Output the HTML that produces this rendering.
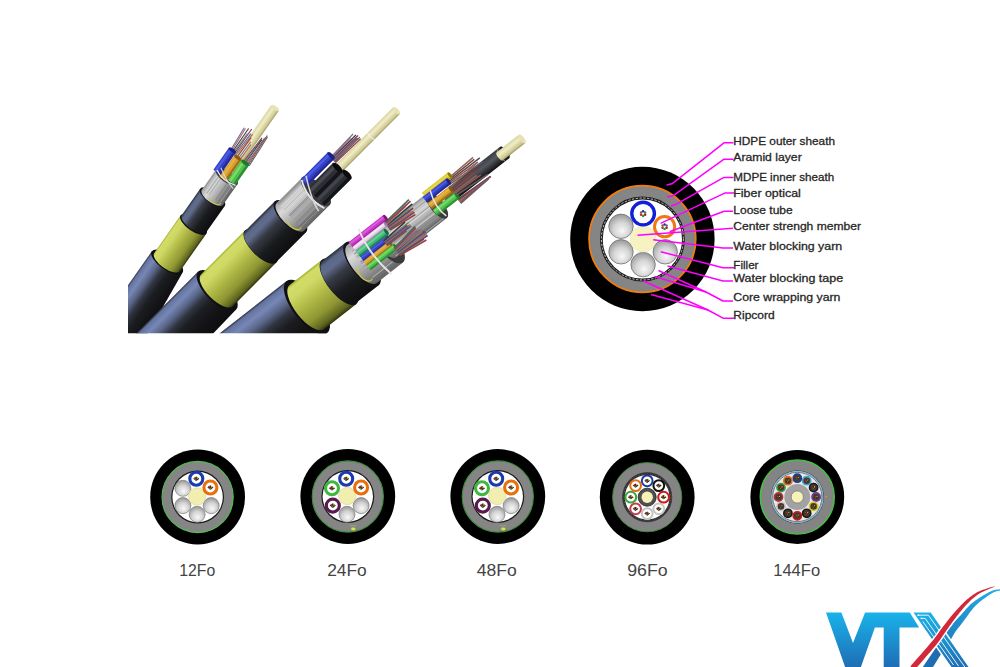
<!DOCTYPE html>
<html><head><meta charset="utf-8"><style>
html,body{margin:0;padding:0;background:#fff;}
svg{display:block;font-family:"Liberation Sans",sans-serif;}
</style></head><body>
<svg width="1000" height="667" viewBox="0 0 1000 667">
<defs>
<linearGradient id="gSheath" x1="0" y1="1" x2="0" y2="0">
 <stop offset="0" stop-color="#2c3244"/><stop offset="0.035" stop-color="#64739e"/><stop offset="0.14" stop-color="#7787b6"/>
 <stop offset="0.27" stop-color="#5a6688"/><stop offset="0.4" stop-color="#30343f"/><stop offset="0.54" stop-color="#1c1d21"/>
 <stop offset="0.75" stop-color="#131315"/><stop offset="0.96" stop-color="#0e0e10"/><stop offset="1" stop-color="#1a1a1e"/>
</linearGradient>
<linearGradient id="gInner" x1="0" y1="1" x2="0" y2="0">
 <stop offset="0" stop-color="#2a2e3a"/><stop offset="0.08" stop-color="#5c6888"/><stop offset="0.2" stop-color="#616c8c"/>
 <stop offset="0.38" stop-color="#363a44"/><stop offset="0.65" stop-color="#1a1b1e"/>
 <stop offset="1" stop-color="#0e0e10"/>
</linearGradient>
<linearGradient id="gYellow" x1="0" y1="1" x2="0" y2="0">
 <stop offset="0" stop-color="#a0b030"/><stop offset="0.05" stop-color="#d2dc66"/><stop offset="0.2" stop-color="#d0d866"/>
 <stop offset="0.45" stop-color="#b2ba48"/><stop offset="0.75" stop-color="#8e9632"/>
 <stop offset="0.93" stop-color="#5e6420"/><stop offset="1" stop-color="#30320e"/>
</linearGradient>
<linearGradient id="gTape" x1="0" y1="1" x2="0" y2="0">
 <stop offset="0" stop-color="#a4a4a4"/><stop offset="0.25" stop-color="#dadada"/>
 <stop offset="0.6" stop-color="#a8a8a8"/><stop offset="1" stop-color="#5e5e5e"/>
</linearGradient>
<linearGradient id="gRod" x1="0" y1="1" x2="0" y2="0">
 <stop offset="0" stop-color="#d9d4a4"/><stop offset="0.35" stop-color="#f1edc6"/>
 <stop offset="0.8" stop-color="#cfc993"/><stop offset="1" stop-color="#9f9a68"/>
</linearGradient>
<linearGradient id="gBlackTube" x1="0" y1="1" x2="0" y2="0">
 <stop offset="0" stop-color="#3a3c44"/><stop offset="0.4" stop-color="#55585f"/>
 <stop offset="1" stop-color="#101012"/>
</linearGradient>
<radialGradient id="gBall" cx="0.4" cy="0.35" r="0.7">
 <stop offset="0" stop-color="#ffffff"/><stop offset="0.5" stop-color="#d9d9d9"/>
 <stop offset="1" stop-color="#8c8c8c"/>
</radialGradient>
<radialGradient id="gBall2" cx="0.5" cy="0.62" r="0.6" fx="0.55" fy="0.7">
 <stop offset="0" stop-color="#f8f8f8"/><stop offset="0.55" stop-color="#d4d4d4"/>
 <stop offset="1" stop-color="#9a9a9a"/>
</radialGradient>
<linearGradient id="gLogo" x1="0" y1="0" x2="0" y2="1">
 <stop offset="0" stop-color="#19b3ea"/><stop offset="1" stop-color="#1f6db5"/>
</linearGradient>
<linearGradient id="gLogo2" x1="0" y1="1" x2="1" y2="0">
 <stop offset="0" stop-color="#1f7fc0"/><stop offset="1" stop-color="#22b0e8"/>
</linearGradient>
<clipPath id="cableClip"><rect x="128" y="0" width="460" height="333.2"/></clipPath>
</defs>
<rect width="1000" height="667" fill="#fff"/>
<g clip-path="url(#cableClip)"><g transform="translate(275,108) rotate(125)"><path d="M188,-18.7 L300,-29 L300,18.7 L188,18.7 Z" fill="url(#gSheath)"/><ellipse cx="188" cy="0" rx="7.853999999999999" ry="18.7" fill="#101012"/><path d="M142,-15.8 L188,-15.8 A6.636,15.8 0 0 1 188,15.8 L142,15.8 Z" fill="url(#gYellow)" /><ellipse cx="142" cy="0" rx="6.636" ry="15.8" fill="#0e0e10"/><path d="M109,-15.0 L141,-15.0 A6.3,15.0 0 0 1 141,15.0 L109,15.0 Z" fill="url(#gInner)" /><ellipse cx="109" cy="0" rx="6.3" ry="15.0" fill="#141416"/><path d="M84,-13 L109,-13 A5.46,13 0 0 1 109,13 L84,13 Z" fill="url(#gTape)" /><ellipse cx="84" cy="0" rx="5.46" ry="13" fill="#9a9a9a"/><line x1="85" y1="-9.0" x2="109" y2="-9.0" stroke="#6a6a6a" stroke-width="0.61" opacity="0.45"/><line x1="85" y1="11.9" x2="109" y2="11.9" stroke="#6a6a6a" stroke-width="0.66" opacity="0.45"/><line x1="85" y1="-6.2" x2="109" y2="-6.2" stroke="#b0b0b0" stroke-width="0.46" opacity="0.45"/><line x1="85" y1="-3.3" x2="109" y2="-3.3" stroke="#7a8a80" stroke-width="0.40" opacity="0.45"/><line x1="85" y1="-6.7" x2="109" y2="-6.7" stroke="#6a6a6a" stroke-width="0.62" opacity="0.45"/><line x1="85" y1="-7.7" x2="109" y2="-7.7" stroke="#6a6a6a" stroke-width="0.72" opacity="0.45"/><line x1="85" y1="-7.8" x2="109" y2="-7.8" stroke="#8a8a8a" stroke-width="0.48" opacity="0.45"/><line x1="85" y1="4.0" x2="109" y2="4.0" stroke="#b0b0b0" stroke-width="0.99" opacity="0.45"/><line x1="85" y1="4.0" x2="109" y2="4.0" stroke="#8a8a8a" stroke-width="0.91" opacity="0.45"/><line x1="85" y1="-4.2" x2="109" y2="-4.2" stroke="#6a6a6a" stroke-width="0.84" opacity="0.45"/><line x1="85" y1="3.2" x2="109" y2="3.2" stroke="#f4f4f4" stroke-width="0.50" opacity="0.45"/><line x1="85" y1="7.4" x2="109" y2="7.4" stroke="#b0b0b0" stroke-width="0.93" opacity="0.45"/><line x1="85" y1="-9.3" x2="109" y2="-9.3" stroke="#f4f4f4" stroke-width="0.71" opacity="0.45"/><line x1="85" y1="8.1" x2="109" y2="8.1" stroke="#f4f4f4" stroke-width="0.79" opacity="0.45"/><line x1="85" y1="-8.8" x2="109" y2="-8.8" stroke="#8a8a8a" stroke-width="1.18" opacity="0.45"/><line x1="85" y1="6.8" x2="109" y2="6.8" stroke="#7a8a80" stroke-width="1.07" opacity="0.45"/><ellipse cx="84" cy="0" rx="5.46" ry="13" fill="#3a3a3a"/><path d="M109,-10 A3.5,7 0 0 1 112,2" fill="none" stroke="#c8c640" stroke-width="1"/><path d="M0,-4.7 L75,-4.7 A1.974,4.7 0 0 1 75,4.7 L0,4.7 Z" fill="url(#gRod)" /><ellipse cx="0" cy="0" rx="1.974" ry="4.7" fill="#e6e2b4"/><line x1="62" y1="5.0" x2="34.4" y2="3.2" stroke="#a87050" stroke-width="1.1"/><line x1="62" y1="6.2" x2="34.8" y2="5.0" stroke="#5060a0" stroke-width="1.1"/><line x1="62" y1="7.3" x2="30.5" y2="7.0" stroke="#8a3050" stroke-width="1.1"/><line x1="62" y1="8.5" x2="36.7" y2="7.9" stroke="#608a70" stroke-width="1.1"/><line x1="62" y1="9.7" x2="31.9" y2="9.9" stroke="#3a3a3a" stroke-width="1.1"/><line x1="62" y1="10.8" x2="33.8" y2="12.4" stroke="#a86a6a" stroke-width="1.1"/><line x1="62" y1="12.0" x2="33.8" y2="13.9" stroke="#7a6a98" stroke-width="1.1"/><line x1="62" y1="-5.0" x2="31.9" y2="-6.4" stroke="#8a3050" stroke-width="1.1"/><line x1="62" y1="-6.2" x2="33.5" y2="-6.8" stroke="#608a70" stroke-width="1.1"/><line x1="62" y1="-7.3" x2="33.4" y2="-7.5" stroke="#3a3a3a" stroke-width="1.1"/><line x1="62" y1="-8.5" x2="29.7" y2="-9.1" stroke="#a86a6a" stroke-width="1.1"/><line x1="62" y1="-9.7" x2="31.2" y2="-8.6" stroke="#7a6a98" stroke-width="1.1"/><line x1="62" y1="-10.8" x2="26.9" y2="-9.4" stroke="#a04040" stroke-width="1.1"/><line x1="62" y1="-12.0" x2="28.0" y2="-10.5" stroke="#4a6a5a" stroke-width="1.1"/><line x1="62" y1="-1.0" x2="43.7" y2="-1.3" stroke="#a86a6a" stroke-width="1.1"/><line x1="62" y1="1.0" x2="41.6" y2="0.6" stroke="#7a6a98" stroke-width="1.1"/><line x1="62" y1="3.0" x2="38.0" y2="2.5" stroke="#a04040" stroke-width="1.1"/><path d="M62,-11.6 L86,-11.6 L86,-2.4000000000000004 L62,-2.4000000000000004 Z" fill="#50c050"/><path d="M62,-6.3100000000000005 L86,-6.3100000000000005 L86,-3.7800000000000002 L62,-3.7800000000000002 Z" fill="#90f070" opacity="0.6"/><path d="M62,-11.6 L86,-11.6 L86,-9.07 L62,-9.07 Z" fill="#207a2a" opacity="0.7"/><ellipse cx="62" cy="-7" rx="1.9319999999999997" ry="4.6" fill="#207a2a"/><path d="M62,-2.2 L88,-2.2 L88,6.2 L62,6.2 Z" fill="#d8a030"/><path d="M62,2.63 L88,2.63 L88,4.9399999999999995 L62,4.9399999999999995 Z" fill="#f0c050" opacity="0.6"/><path d="M62,-2.2 L88,-2.2 L88,0.10999999999999988 L62,0.10999999999999988 Z" fill="#8a5a10" opacity="0.7"/><ellipse cx="62" cy="2" rx="1.764" ry="4.2" fill="#8a5a10"/><path d="M59,6.6000000000000005 L86,6.6000000000000005 L86,15.0 L59,15.0 Z" fill="#3440c8"/><path d="M59,11.430000000000001 L86,11.430000000000001 L86,13.74 L59,13.74 Z" fill="#5a70f0" opacity="0.6"/><path d="M59,6.6000000000000005 L86,6.6000000000000005 L86,8.91 L59,8.91 Z" fill="#1c2080" opacity="0.7"/><ellipse cx="59" cy="10.8" rx="1.764" ry="4.2" fill="#1c2080"/><path d="M84,12 Q90,2 86,-12" stroke="#e8e8e8" stroke-width="1.3" fill="none"/><path d="M80,10 Q88,-2 90,-12" stroke="#dcdcdc" stroke-width="1" fill="none"/></g><g transform="translate(396.5,110.7) rotate(135)"><path d="M254,-27.2 L360,-29.5 L360,26.5 L254,26.5 Z" fill="url(#gSheath)"/><ellipse cx="254" cy="-0.35" rx="11.277000000000001" ry="26.85" fill="#101012"/><path d="M192,-22.5 L254,-22.5 A9.45,22.5 0 0 1 254,22.5 L192,22.5 Z" fill="url(#gYellow)" /><ellipse cx="192" cy="0" rx="9.45" ry="22.5" fill="#0e0e10"/><path d="M150,-22 L192,-22 A9.24,22 0 0 1 192,22 L150,22 Z" fill="url(#gInner)" /><ellipse cx="150" cy="0" rx="9.24" ry="22" fill="#141416"/><path d="M114,-19.5 L150,-19.5 A8.19,19.5 0 0 1 150,19.5 L114,19.5 Z" fill="url(#gTape)" /><ellipse cx="114" cy="0" rx="8.19" ry="19.5" fill="#9a9a9a"/><line x1="115" y1="0.8" x2="150" y2="0.8" stroke="#6a6a6a" stroke-width="1.07" opacity="0.45"/><line x1="115" y1="-16.1" x2="150" y2="-16.1" stroke="#7a8a80" stroke-width="1.00" opacity="0.45"/><line x1="115" y1="-2.6" x2="150" y2="-2.6" stroke="#b0b0b0" stroke-width="0.63" opacity="0.45"/><line x1="115" y1="-11.5" x2="150" y2="-11.5" stroke="#f4f4f4" stroke-width="0.46" opacity="0.45"/><line x1="115" y1="9.4" x2="150" y2="9.4" stroke="#6a6a6a" stroke-width="0.68" opacity="0.45"/><line x1="115" y1="-8.4" x2="150" y2="-8.4" stroke="#8a8a8a" stroke-width="0.90" opacity="0.45"/><line x1="115" y1="-4.7" x2="150" y2="-4.7" stroke="#6a6a6a" stroke-width="0.49" opacity="0.45"/><line x1="115" y1="-10.6" x2="150" y2="-10.6" stroke="#b0b0b0" stroke-width="0.41" opacity="0.45"/><line x1="115" y1="5.7" x2="150" y2="5.7" stroke="#f4f4f4" stroke-width="0.54" opacity="0.45"/><line x1="115" y1="-18.2" x2="150" y2="-18.2" stroke="#8a8a8a" stroke-width="0.60" opacity="0.45"/><line x1="115" y1="-12.6" x2="150" y2="-12.6" stroke="#6a6a6a" stroke-width="0.67" opacity="0.45"/><line x1="115" y1="-0.9" x2="150" y2="-0.9" stroke="#6a6a6a" stroke-width="0.57" opacity="0.45"/><line x1="115" y1="2.1" x2="150" y2="2.1" stroke="#8a8a8a" stroke-width="0.45" opacity="0.45"/><line x1="115" y1="3.3" x2="150" y2="3.3" stroke="#b0b0b0" stroke-width="0.44" opacity="0.45"/><line x1="115" y1="2.2" x2="150" y2="2.2" stroke="#6a6a6a" stroke-width="0.68" opacity="0.45"/><line x1="115" y1="-8.2" x2="150" y2="-8.2" stroke="#7a8a80" stroke-width="1.09" opacity="0.45"/><line x1="115" y1="9.2" x2="150" y2="9.2" stroke="#b0b0b0" stroke-width="0.54" opacity="0.45"/><line x1="115" y1="18.1" x2="150" y2="18.1" stroke="#6a6a6a" stroke-width="1.11" opacity="0.45"/><line x1="115" y1="13.7" x2="150" y2="13.7" stroke="#f4f4f4" stroke-width="1.05" opacity="0.45"/><line x1="115" y1="-2.6" x2="150" y2="-2.6" stroke="#b0b0b0" stroke-width="0.85" opacity="0.45"/><line x1="115" y1="1.4" x2="150" y2="1.4" stroke="#7a8a80" stroke-width="0.95" opacity="0.45"/><line x1="115" y1="-13.7" x2="150" y2="-13.7" stroke="#6a6a6a" stroke-width="1.19" opacity="0.45"/><line x1="115" y1="17.0" x2="150" y2="17.0" stroke="#8a8a8a" stroke-width="1.09" opacity="0.45"/><line x1="115" y1="-14.7" x2="150" y2="-14.7" stroke="#b0b0b0" stroke-width="0.83" opacity="0.45"/><line x1="115" y1="4.8" x2="150" y2="4.8" stroke="#b0b0b0" stroke-width="0.44" opacity="0.45"/><ellipse cx="114" cy="0" rx="8.19" ry="19.5" fill="#3a3a3a"/><path d="M150,-15 A5,9 0 0 1 155,0" fill="none" stroke="#c8c640" stroke-width="1.2"/><path d="M0,-4.8 L110,-4.8 A2.016,4.8 0 0 1 110,4.8 L0,4.8 Z" fill="url(#gRod)" /><ellipse cx="0" cy="0" rx="2.016" ry="4.8" fill="#e6e2b4"/><path d="M80,-16.2 L118,-16.2 L118,-3.8 L80,-3.8 Z" fill="#2c2e34"/><path d="M80,-9.07 L118,-9.07 L118,-5.66 L80,-5.66 Z" fill="#50545c" opacity="0.6"/><path d="M80,-16.2 L118,-16.2 L118,-12.79 L80,-12.79 Z" fill="#0c0c0e" opacity="0.7"/><ellipse cx="80" cy="-10" rx="2.604" ry="6.2" fill="#0c0c0e"/><path d="M82,-5.1 L118,-5.1 L118,7.9 L82,7.9 Z" fill="#2c2e34"/><path d="M82,2.375 L118,2.375 L118,5.949999999999999 L82,5.949999999999999 Z" fill="#5a5e66" opacity="0.6"/><path d="M82,-5.1 L118,-5.1 L118,-1.5250000000000004 L82,-1.5250000000000004 Z" fill="#0c0c0e" opacity="0.7"/><ellipse cx="82" cy="1.4" rx="2.73" ry="6.5" fill="#0c0c0e"/><line x1="80" y1="6.4" x2="45.2" y2="5.6" stroke="#a04040" stroke-width="1.2000000000000002"/><line x1="80" y1="7.2" x2="44.6" y2="7.2" stroke="#4a6a5a" stroke-width="1.2000000000000002"/><line x1="80" y1="8.0" x2="46.9" y2="7.8" stroke="#6a3a7a" stroke-width="1.2000000000000002"/><line x1="80" y1="8.8" x2="48.1" y2="7.8" stroke="#a87050" stroke-width="1.2000000000000002"/><line x1="80" y1="9.6" x2="47.5" y2="8.6" stroke="#5060a0" stroke-width="1.2000000000000002"/><line x1="80" y1="10.4" x2="44.7" y2="9.6" stroke="#8a3050" stroke-width="1.2000000000000002"/><line x1="80" y1="11.2" x2="50.6" y2="11.2" stroke="#608a70" stroke-width="1.2000000000000002"/><line x1="80" y1="12.0" x2="45.8" y2="11.5" stroke="#3a3a3a" stroke-width="1.2000000000000002"/><line x1="80" y1="12.8" x2="51.6" y2="13.4" stroke="#a86a6a" stroke-width="1.2000000000000002"/><line x1="80" y1="13.6" x2="47.2" y2="14.2" stroke="#7a6a98" stroke-width="1.2000000000000002"/><path d="M78,9.9 L116,9.9 L116,19.1 L78,19.1 Z" fill="#3440c8"/><path d="M78,15.19 L116,15.19 L116,17.72 L78,17.72 Z" fill="#5a70f0" opacity="0.6"/><path d="M78,9.9 L116,9.9 L116,12.43 L78,12.43 Z" fill="#1c2080" opacity="0.7"/><ellipse cx="78" cy="14.5" rx="1.9319999999999997" ry="4.6" fill="#1c2080"/><path d="M116,18 Q126,2 120,-18" stroke="#e6e6e6" stroke-width="1.8" fill="none"/><path d="M110,18 Q124,-4 126,-16" stroke="#d8d8d8" stroke-width="1.4" fill="none"/><path d="M36,5 Q38,0 36,-5" stroke="#f4f4f4" stroke-width="1" fill="none"/></g><g transform="translate(522,139) rotate(142)"><path d="M273,-33 L520,-33 A13.86,33 0 0 1 520,33 L273,33 Z" fill="url(#gSheath)" /><ellipse cx="273" cy="0" rx="13.86" ry="33" fill="#101012"/><path d="M232,-28 L273,-28 A11.76,28 0 0 1 273,28 L232,28 Z" fill="url(#gYellow)" /><ellipse cx="232" cy="0" rx="11.76" ry="28" fill="#0e0e10"/><path d="M203,-27 L232,-27 A11.34,27 0 0 1 232,27 L203,27 Z" fill="url(#gInner)" /><ellipse cx="203" cy="0" rx="11.34" ry="27" fill="#141416"/><path d="M170,-24 L203,-24 A10.08,24 0 0 1 203,24 L170,24 Z" fill="url(#gTape)" /><ellipse cx="170" cy="0" rx="10.08" ry="24" fill="#9a9a9a"/><line x1="171" y1="-5.6" x2="203" y2="-5.6" stroke="#f4f4f4" stroke-width="1.19" opacity="0.45"/><line x1="171" y1="-16.8" x2="203" y2="-16.8" stroke="#b0b0b0" stroke-width="0.67" opacity="0.45"/><line x1="171" y1="21.1" x2="203" y2="21.1" stroke="#6a6a6a" stroke-width="0.95" opacity="0.45"/><line x1="171" y1="12.7" x2="203" y2="12.7" stroke="#8a8a8a" stroke-width="1.11" opacity="0.45"/><line x1="171" y1="-0.8" x2="203" y2="-0.8" stroke="#f4f4f4" stroke-width="0.78" opacity="0.45"/><line x1="171" y1="-17.6" x2="203" y2="-17.6" stroke="#7a8a80" stroke-width="0.86" opacity="0.45"/><line x1="171" y1="5.8" x2="203" y2="5.8" stroke="#f4f4f4" stroke-width="1.03" opacity="0.45"/><line x1="171" y1="15.9" x2="203" y2="15.9" stroke="#7a8a80" stroke-width="1.07" opacity="0.45"/><line x1="171" y1="7.2" x2="203" y2="7.2" stroke="#b0b0b0" stroke-width="1.12" opacity="0.45"/><line x1="171" y1="-17.1" x2="203" y2="-17.1" stroke="#f4f4f4" stroke-width="0.87" opacity="0.45"/><line x1="171" y1="-13.8" x2="203" y2="-13.8" stroke="#8a8a8a" stroke-width="0.84" opacity="0.45"/><line x1="171" y1="7.1" x2="203" y2="7.1" stroke="#f4f4f4" stroke-width="0.46" opacity="0.45"/><line x1="171" y1="7.9" x2="203" y2="7.9" stroke="#7a8a80" stroke-width="0.54" opacity="0.45"/><line x1="171" y1="-11.8" x2="203" y2="-11.8" stroke="#b0b0b0" stroke-width="0.40" opacity="0.45"/><line x1="171" y1="-22.8" x2="203" y2="-22.8" stroke="#8a8a8a" stroke-width="0.59" opacity="0.45"/><line x1="171" y1="16.9" x2="203" y2="16.9" stroke="#b0b0b0" stroke-width="1.17" opacity="0.45"/><line x1="171" y1="7.0" x2="203" y2="7.0" stroke="#6a6a6a" stroke-width="0.78" opacity="0.45"/><line x1="171" y1="-3.2" x2="203" y2="-3.2" stroke="#7a8a80" stroke-width="0.98" opacity="0.45"/><line x1="171" y1="7.3" x2="203" y2="7.3" stroke="#b0b0b0" stroke-width="0.98" opacity="0.45"/><line x1="171" y1="1.6" x2="203" y2="1.6" stroke="#b0b0b0" stroke-width="0.68" opacity="0.45"/><line x1="171" y1="10.7" x2="203" y2="10.7" stroke="#b0b0b0" stroke-width="0.83" opacity="0.45"/><line x1="171" y1="0.4" x2="203" y2="0.4" stroke="#6a6a6a" stroke-width="0.94" opacity="0.45"/><line x1="171" y1="-10.1" x2="203" y2="-10.1" stroke="#b0b0b0" stroke-width="0.80" opacity="0.45"/><line x1="171" y1="2.6" x2="203" y2="2.6" stroke="#6a6a6a" stroke-width="1.04" opacity="0.45"/><line x1="171" y1="7.6" x2="203" y2="7.6" stroke="#f4f4f4" stroke-width="0.69" opacity="0.45"/><line x1="171" y1="9.2" x2="203" y2="9.2" stroke="#6a6a6a" stroke-width="1.16" opacity="0.45"/><line x1="171" y1="-6.3" x2="203" y2="-6.3" stroke="#6a6a6a" stroke-width="1.01" opacity="0.45"/><line x1="171" y1="2.1" x2="203" y2="2.1" stroke="#6a6a6a" stroke-width="0.61" opacity="0.45"/><line x1="171" y1="12.5" x2="203" y2="12.5" stroke="#6a6a6a" stroke-width="1.13" opacity="0.45"/><line x1="171" y1="-10.1" x2="203" y2="-10.1" stroke="#7a8a80" stroke-width="0.85" opacity="0.45"/><line x1="171" y1="1.0" x2="203" y2="1.0" stroke="#b0b0b0" stroke-width="0.40" opacity="0.45"/><ellipse cx="170" cy="0" rx="10.08" ry="24" fill="#3a3a3a"/><path d="M204,-18 A6,10 0 0 1 209,0" fill="none" stroke="#c8c640" stroke-width="1.3"/><path d="M0,-5.2 L100,-5.2 A2.184,5.2 0 0 1 100,5.2 L0,5.2 Z" fill="url(#gRod)" /><ellipse cx="0" cy="0" rx="2.184" ry="5.2" fill="#e6e2b4"/><path d="M22,-7.3 L95,-7.3 A3.066,7.3 0 0 1 95,7.3 L22,7.3 Z" fill="url(#gBlackTube)" /><ellipse cx="22" cy="0" rx="3.066" ry="7.3" fill="#1a1a1c"/><path d="M26,7 Q30,0 27,-7" stroke="#9a9a9a" stroke-width="0.8" fill="none"/><line x1="88" y1="9.0" x2="44.9" y2="6.4" stroke="#6a5a6a" stroke-width="1.5"/><line x1="88" y1="10.2" x2="49.5" y2="9.1" stroke="#9a5a4a" stroke-width="1.5"/><line x1="88" y1="11.5" x2="44.9" y2="11.1" stroke="#5a4a5a" stroke-width="1.5"/><line x1="88" y1="12.8" x2="50.1" y2="13.4" stroke="#7a3a3a" stroke-width="1.5"/><line x1="88" y1="14.0" x2="49.9" y2="15.6" stroke="#8a6a5a" stroke-width="1.5"/><line x1="88" y1="-8.0" x2="51.1" y2="-9.9" stroke="#5a4a5a" stroke-width="1.5"/><line x1="88" y1="-9.2" x2="48.2" y2="-9.9" stroke="#7a3a3a" stroke-width="1.5"/><line x1="88" y1="-10.5" x2="53.1" y2="-10.3" stroke="#8a6a5a" stroke-width="1.5"/><line x1="88" y1="-11.8" x2="47.5" y2="-10.3" stroke="#8a4a4a" stroke-width="1.5"/><line x1="88" y1="-13.0" x2="50.9" y2="-10.8" stroke="#6a5a6a" stroke-width="1.5"/><line x1="88" y1="0.0" x2="58.0" y2="-0.9" stroke="#8a6a5a" stroke-width="1.5"/><line x1="88" y1="2.0" x2="58.9" y2="2.3" stroke="#8a4a4a" stroke-width="1.5"/><line x1="88" y1="4.0" x2="59.7" y2="4.7" stroke="#6a5a6a" stroke-width="1.5"/><path d="M108,-16 L172,-16 A6.72,16 0 0 1 172,16 L108,16 Z" fill="url(#gTape)" /><ellipse cx="108" cy="0" rx="6.72" ry="16" fill="#9a9a9a"/><line x1="109" y1="-5.9" x2="172" y2="-5.9" stroke="#7a8a80" stroke-width="0.51" opacity="0.45"/><line x1="109" y1="-11.1" x2="172" y2="-11.1" stroke="#8a8a8a" stroke-width="0.59" opacity="0.45"/><line x1="109" y1="-6.2" x2="172" y2="-6.2" stroke="#7a8a80" stroke-width="0.56" opacity="0.45"/><line x1="109" y1="14.7" x2="172" y2="14.7" stroke="#7a8a80" stroke-width="1.11" opacity="0.45"/><line x1="109" y1="-9.7" x2="172" y2="-9.7" stroke="#b0b0b0" stroke-width="0.89" opacity="0.45"/><line x1="109" y1="-2.4" x2="172" y2="-2.4" stroke="#8a8a8a" stroke-width="0.99" opacity="0.45"/><line x1="109" y1="8.4" x2="172" y2="8.4" stroke="#b0b0b0" stroke-width="0.53" opacity="0.45"/><line x1="109" y1="8.1" x2="172" y2="8.1" stroke="#8a8a8a" stroke-width="0.44" opacity="0.45"/><line x1="109" y1="3.0" x2="172" y2="3.0" stroke="#f4f4f4" stroke-width="1.16" opacity="0.45"/><line x1="109" y1="3.8" x2="172" y2="3.8" stroke="#6a6a6a" stroke-width="1.16" opacity="0.45"/><line x1="109" y1="10.4" x2="172" y2="10.4" stroke="#7a8a80" stroke-width="0.57" opacity="0.45"/><line x1="109" y1="14.1" x2="172" y2="14.1" stroke="#b0b0b0" stroke-width="0.89" opacity="0.45"/><line x1="109" y1="-4.8" x2="172" y2="-4.8" stroke="#f4f4f4" stroke-width="1.20" opacity="0.45"/><line x1="109" y1="10.3" x2="172" y2="10.3" stroke="#8a8a8a" stroke-width="1.16" opacity="0.45"/><line x1="109" y1="-5.0" x2="172" y2="-5.0" stroke="#f4f4f4" stroke-width="0.49" opacity="0.45"/><line x1="109" y1="-3.8" x2="172" y2="-3.8" stroke="#b0b0b0" stroke-width="0.72" opacity="0.45"/><line x1="109" y1="2.3" x2="172" y2="2.3" stroke="#f4f4f4" stroke-width="0.75" opacity="0.45"/><line x1="109" y1="-9.6" x2="172" y2="-9.6" stroke="#7a8a80" stroke-width="0.56" opacity="0.45"/><line x1="109" y1="-14.3" x2="172" y2="-14.3" stroke="#f4f4f4" stroke-width="1.20" opacity="0.45"/><line x1="109" y1="-13.5" x2="172" y2="-13.5" stroke="#6a6a6a" stroke-width="0.68" opacity="0.45"/><ellipse cx="108" cy="0" rx="6.72" ry="16" fill="#3a3a3a"/><path d="M79,12.3 L112,12.3 L112,19.3 L79,19.3 Z" fill="#d8c830"/><path d="M79,16.325 L112,16.325 L112,18.25 L79,18.25 Z" fill="#f0e060" opacity="0.6"/><path d="M79,12.3 L112,12.3 L112,14.225000000000001 L79,14.225000000000001 Z" fill="#8a7a10" opacity="0.7"/><ellipse cx="79" cy="15.8" rx="1.47" ry="3.5" fill="#8a7a10"/><path d="M84,8.4 L114,8.4 L114,15.4 L84,15.4 Z" fill="#3440c8"/><path d="M84,12.425 L114,12.425 L114,14.35 L84,14.35 Z" fill="#5a70f0" opacity="0.6"/><path d="M84,8.4 L114,8.4 L114,10.325000000000001 L84,10.325000000000001 Z" fill="#1c2080" opacity="0.7"/><ellipse cx="84" cy="11.9" rx="1.47" ry="3.5" fill="#1c2080"/><path d="M87,0.19999999999999973 L114,0.19999999999999973 L114,7.4 L87,7.4 Z" fill="#d8a030"/><path d="M87,4.34 L114,4.34 L114,6.32 L87,6.32 Z" fill="#f0c050" opacity="0.6"/><path d="M87,0.19999999999999973 L114,0.19999999999999973 L114,2.1799999999999997 L87,2.1799999999999997 Z" fill="#8a5a10" opacity="0.7"/><ellipse cx="87" cy="3.8" rx="1.512" ry="3.6" fill="#8a5a10"/><path d="M86,-8.399999999999999 L114,-8.399999999999999 L114,-0.7999999999999998 L86,-0.7999999999999998 Z" fill="#50c050"/><path d="M86,-4.029999999999999 L114,-4.029999999999999 L114,-1.94 L86,-1.94 Z" fill="#90f070" opacity="0.6"/><path d="M86,-8.399999999999999 L114,-8.399999999999999 L114,-6.31 L86,-6.31 Z" fill="#207a2a" opacity="0.7"/><ellipse cx="86" cy="-4.6" rx="1.5959999999999999" ry="3.8" fill="#207a2a"/><line x1="86" y1="-4.0" x2="48.7" y2="-6.8" stroke="#6a5a6a" stroke-width="1.4"/><line x1="86" y1="-1.5" x2="54.7" y2="-2.9" stroke="#9a5a4a" stroke-width="1.4"/><line x1="86" y1="1.0" x2="52.1" y2="1.4" stroke="#5a4a5a" stroke-width="1.4"/><line x1="86" y1="3.5" x2="51.0" y2="5.2" stroke="#7a3a3a" stroke-width="1.4"/><line x1="86" y1="6.0" x2="48.9" y2="9.0" stroke="#8a6a5a" stroke-width="1.4"/><path d="M104,16 Q111,0 107,-14" stroke="#e6e6e6" stroke-width="1.5" fill="none"/><line x1="160" y1="9.6" x2="130.5" y2="6.2" stroke="#a04040" stroke-width="1.6500000000000001"/><line x1="160" y1="10.4" x2="129.7" y2="8.5" stroke="#4a6a5a" stroke-width="1.6500000000000001"/><line x1="160" y1="11.2" x2="130.7" y2="9.1" stroke="#6a3a7a" stroke-width="1.6500000000000001"/><line x1="160" y1="12.0" x2="130.1" y2="9.9" stroke="#a87050" stroke-width="1.6500000000000001"/><line x1="160" y1="12.8" x2="132.3" y2="12.2" stroke="#5060a0" stroke-width="1.6500000000000001"/><line x1="160" y1="13.6" x2="128.4" y2="12.5" stroke="#8a3050" stroke-width="1.6500000000000001"/><line x1="160" y1="14.4" x2="132.5" y2="13.9" stroke="#608a70" stroke-width="1.6500000000000001"/><line x1="160" y1="15.2" x2="126.3" y2="16.5" stroke="#3a3a3a" stroke-width="1.6500000000000001"/><line x1="160" y1="16.0" x2="133.7" y2="18.5" stroke="#a86a6a" stroke-width="1.6500000000000001"/><line x1="160" y1="16.8" x2="130.9" y2="19.2" stroke="#7a6a98" stroke-width="1.6500000000000001"/><line x1="160" y1="17.6" x2="126.1" y2="19.6" stroke="#a04040" stroke-width="1.6500000000000001"/><line x1="160" y1="18.4" x2="126.5" y2="21.8" stroke="#4a6a5a" stroke-width="1.6500000000000001"/><path d="M156,18.6 L200,18.6 L200,25.4 L156,25.4 Z" fill="#c838c8"/><path d="M156,22.51 L200,22.51 L200,24.38 L156,24.38 Z" fill="#f070f0" opacity="0.6"/><path d="M156,18.6 L200,18.6 L200,20.47 L156,20.47 Z" fill="#702070" opacity="0.7"/><ellipse cx="156" cy="22" rx="1.428" ry="3.4" fill="#702070"/><path d="M160,13.5 L200,13.5 L200,19.5 L160,19.5 Z" fill="#e8c8e8"/><path d="M160,16.95 L200,16.95 L200,18.6 L160,18.6 Z" fill="#ffffff" opacity="0.6"/><path d="M160,13.5 L200,13.5 L200,15.15 L160,15.15 Z" fill="#a080a0" opacity="0.7"/><ellipse cx="160" cy="16.5" rx="1.26" ry="3.0" fill="#a080a0"/><path d="M164,6.9 L200,6.9 L200,14.1 L164,14.1 Z" fill="#40b878"/><path d="M164,11.04 L200,11.04 L200,13.02 L164,13.02 Z" fill="#80e0a8" opacity="0.6"/><path d="M164,6.9 L200,6.9 L200,8.879999999999999 L164,8.879999999999999 Z" fill="#1a6a40" opacity="0.7"/><ellipse cx="164" cy="10.5" rx="1.512" ry="3.6" fill="#1a6a40"/><path d="M166,1.0 L200,1.0 L200,7.0 L166,7.0 Z" fill="#3440c8"/><path d="M166,4.45 L200,4.45 L200,6.1 L166,6.1 Z" fill="#5a70f0" opacity="0.6"/><path d="M166,1.0 L200,1.0 L200,2.65 L166,2.65 Z" fill="#1c2080" opacity="0.7"/><ellipse cx="166" cy="4" rx="1.26" ry="3.0" fill="#1c2080"/><path d="M168,-4.5 L200,-4.5 L200,1.5 L168,1.5 Z" fill="#d8a030"/><path d="M168,-1.05 L200,-1.05 L200,0.5999999999999996 L168,0.5999999999999996 Z" fill="#f0c050" opacity="0.6"/><path d="M168,-4.5 L200,-4.5 L200,-2.85 L168,-2.85 Z" fill="#8a5a10" opacity="0.7"/><ellipse cx="168" cy="-1.5" rx="1.26" ry="3.0" fill="#8a5a10"/><path d="M166,-10.2 L200,-10.2 L200,-3.8 L166,-3.8 Z" fill="#50c050"/><path d="M166,-6.52 L200,-6.52 L200,-4.76 L166,-4.76 Z" fill="#90f070" opacity="0.6"/><path d="M166,-10.2 L200,-10.2 L200,-8.44 L166,-8.44 Z" fill="#207a2a" opacity="0.7"/><ellipse cx="166" cy="-7" rx="1.344" ry="3.2" fill="#207a2a"/><line x1="168" y1="-16.4" x2="137.5" y2="-20.7" stroke="#a04040" stroke-width="1.6500000000000001"/><line x1="168" y1="-15.6" x2="138.8" y2="-18.4" stroke="#4a6a5a" stroke-width="1.6500000000000001"/><line x1="168" y1="-14.8" x2="133.8" y2="-17.9" stroke="#6a3a7a" stroke-width="1.6500000000000001"/><line x1="168" y1="-14.0" x2="133.8" y2="-16.5" stroke="#a87050" stroke-width="1.6500000000000001"/><line x1="168" y1="-13.2" x2="133.0" y2="-13.8" stroke="#5060a0" stroke-width="1.6500000000000001"/><line x1="168" y1="-12.4" x2="133.7" y2="-12.7" stroke="#8a3050" stroke-width="1.6500000000000001"/><line x1="168" y1="-11.6" x2="135.5" y2="-11.7" stroke="#608a70" stroke-width="1.6500000000000001"/><line x1="168" y1="-10.8" x2="136.9" y2="-9.1" stroke="#3a3a3a" stroke-width="1.6500000000000001"/><line x1="168" y1="-10.0" x2="134.2" y2="-9.2" stroke="#a86a6a" stroke-width="1.6500000000000001"/><line x1="168" y1="-9.2" x2="139.0" y2="-7.5" stroke="#7a6a98" stroke-width="1.6500000000000001"/><line x1="168" y1="-8.4" x2="138.4" y2="-4.6" stroke="#a04040" stroke-width="1.6500000000000001"/><line x1="168" y1="-7.6" x2="138.0" y2="-3.1" stroke="#4a6a5a" stroke-width="1.6500000000000001"/><line x1="172" y1="-0.8" x2="147.6" y2="-1.4" stroke="#a04040" stroke-width="1.5"/><line x1="172" y1="0.0" x2="140.7" y2="-0.2" stroke="#4a6a5a" stroke-width="1.5"/><line x1="172" y1="0.8" x2="143.4" y2="0.4" stroke="#6a3a7a" stroke-width="1.5"/><line x1="172" y1="1.6" x2="141.0" y2="1.5" stroke="#a87050" stroke-width="1.5"/><line x1="172" y1="2.4" x2="143.6" y2="2.0" stroke="#5060a0" stroke-width="1.5"/><line x1="172" y1="3.2" x2="143.6" y2="3.2" stroke="#8a3050" stroke-width="1.5"/><line x1="172" y1="4.0" x2="140.7" y2="4.0" stroke="#608a70" stroke-width="1.5"/><line x1="172" y1="4.8" x2="143.4" y2="6.6" stroke="#3a3a3a" stroke-width="1.5"/><path d="M184,30 Q192,4 186,-26" stroke="#e6e6e6" stroke-width="1.8" fill="none"/><path d="M0,-5.2 L28,-5.2 A2.184,5.2 0 0 1 28,5.2 L0,5.2 Z" fill="url(#gRod)" /><ellipse cx="0" cy="0" rx="2.184" ry="5.2" fill="#e6e2b4"/></g></g>
<circle cx="642.4" cy="239" r="72.2" fill="#000"/><circle cx="642.4" cy="239" r="53.2" fill="#858585" stroke="#f07c10" stroke-width="2"/><circle cx="642.4" cy="239" r="51.9" fill="none" stroke="#6a8aa0" stroke-width="0.6"/><circle cx="642.4" cy="239" r="41" fill="#fff" stroke="#1e1e1e" stroke-width="2.8"/><circle cx="642.4" cy="239" r="41" fill="none" stroke="#d8d8d8" stroke-width="0.9" stroke-dasharray="2.2 1.6"/><circle cx="665.2" cy="251.8" r="12.2" fill="url(#gBall2)" stroke="#707070" stroke-width="0.8"/><circle cx="643.1" cy="264.6" r="12.2" fill="url(#gBall2)" stroke="#707070" stroke-width="0.8"/><circle cx="621.0" cy="251.8" r="12.2" fill="url(#gBall2)" stroke="#707070" stroke-width="0.8"/><circle cx="621.0" cy="226.3" r="12.2" fill="url(#gBall2)" stroke="#707070" stroke-width="0.8"/><circle cx="643.1" cy="239.1" r="13" fill="#f6f2c2" stroke="#e8e4b0" stroke-width="0.5"/><circle cx="643.1" cy="213.6" r="11.3" fill="#fff" stroke="#1020d8" stroke-width="3.4"/><circle cx="664.6" cy="226.7" r="10.1" fill="#fff" stroke="#f07810" stroke-width="3"/><circle cx="643.1" cy="211.3" r="1.25" fill="#1830c0"/><circle cx="645.1" cy="212.4" r="1.25" fill="#6a6a6a"/><circle cx="645.1" cy="214.8" r="1.25" fill="#a02020"/><circle cx="643.1" cy="215.9" r="1.25" fill="#20a030"/><circle cx="641.1" cy="214.8" r="1.25" fill="#c02828"/><circle cx="641.1" cy="212.4" r="1.25" fill="#806040"/><circle cx="664.6" cy="224.4" r="1.25" fill="#1830c0"/><circle cx="666.6" cy="225.5" r="1.25" fill="#6a6a6a"/><circle cx="666.6" cy="227.8" r="1.25" fill="#a02020"/><circle cx="664.6" cy="229.0" r="1.25" fill="#20a030"/><circle cx="662.6" cy="227.8" r="1.25" fill="#c02828"/><circle cx="662.6" cy="225.5" r="1.25" fill="#806040"/><polyline points="666.6,185 672,183.8 724,142.8 733.5,142.8" fill="none" stroke="#ff00ff" stroke-width="1.5" stroke-linejoin="round"/><polyline points="667.2,197 673,195.8 724,159.2 733.5,159.2" fill="none" stroke="#ff00ff" stroke-width="1.5" stroke-linejoin="round"/><polyline points="670.8,206 675,204.8 723.5,177.6 733.5,177.6" fill="none" stroke="#ff00ff" stroke-width="1.5" stroke-linejoin="round"/><polyline points="660.6,223.4 724.7,193.1 734.5,193.1" fill="none" stroke="#ff00ff" stroke-width="1.5" stroke-linejoin="round"/><polyline points="669.6,231.8 724.1,211.2 733,211.2" fill="none" stroke="#ff00ff" stroke-width="1.5" stroke-linejoin="round"/><polyline points="637.5,235.2 733,228.2" fill="none" stroke="#ff00ff" stroke-width="1.5" stroke-linejoin="round"/><polyline points="653.2,239.7 723,248 733,248" fill="none" stroke="#ff00ff" stroke-width="1.5" stroke-linejoin="round"/><polyline points="660.7,251.7 723,267.8 734,267.8" fill="none" stroke="#ff00ff" stroke-width="1.5" stroke-linejoin="round"/><polyline points="667.5,266 723,281 733,281" fill="none" stroke="#ff00ff" stroke-width="1.5" stroke-linejoin="round"/><polyline points="658.5,270.5 706,292 723,301 733,301" fill="none" stroke="#ff00ff" stroke-width="1.5" stroke-linejoin="round"/><polyline points="654.7,276.5 706,292" fill="none" stroke="#ff00ff" stroke-width="1.5" stroke-linejoin="round"/><polyline points="643.5,281 708,310 723,318.2 734,318.2" fill="none" stroke="#ff00ff" stroke-width="1.5" stroke-linejoin="round"/><polyline points="651,294.5 708,310" fill="none" stroke="#ff00ff" stroke-width="1.5" stroke-linejoin="round"/><text x="733.3" y="144.8" font-size="10.5" fill="#262626" stroke="#262626" stroke-width="0.28" textLength="101.7" lengthAdjust="spacingAndGlyphs">HDPE outer sheath</text><text x="733.3" y="160.8" font-size="10.5" fill="#262626" stroke="#262626" stroke-width="0.28" textLength="68.4" lengthAdjust="spacingAndGlyphs">Aramid layer</text><text x="733.3" y="180.7" font-size="10.5" fill="#262626" stroke="#262626" stroke-width="0.28" textLength="100.8" lengthAdjust="spacingAndGlyphs">MDPE inner sheath</text><text x="733.3" y="196.5" font-size="10.5" fill="#262626" stroke="#262626" stroke-width="0.28" textLength="67.5" lengthAdjust="spacingAndGlyphs">Fiber optical</text><text x="733.3" y="214.3" font-size="10.5" fill="#262626" stroke="#262626" stroke-width="0.28" textLength="59.4" lengthAdjust="spacingAndGlyphs">Loose tube</text><text x="733.3" y="229.6" font-size="10.5" fill="#262626" stroke="#262626" stroke-width="0.28" textLength="127.8" lengthAdjust="spacingAndGlyphs">Center strengh member</text><text x="733.3" y="250.2" font-size="10.5" fill="#262626" stroke="#262626" stroke-width="0.28" textLength="108.9" lengthAdjust="spacingAndGlyphs">Water blocking yarn</text><text x="733.3" y="268.7" font-size="10.5" fill="#262626" stroke="#262626" stroke-width="0.28" textLength="25.2" lengthAdjust="spacingAndGlyphs">Filler</text><text x="733.3" y="282.2" font-size="10.5" fill="#262626" stroke="#262626" stroke-width="0.28" textLength="109.8" lengthAdjust="spacingAndGlyphs">Water blocking tape</text><text x="733.3" y="300.5" font-size="10.5" fill="#262626" stroke="#262626" stroke-width="0.28" textLength="107.1" lengthAdjust="spacingAndGlyphs">Core wrapping yarn</text><text x="733.3" y="319" font-size="10.5" fill="#262626" stroke="#262626" stroke-width="0.28" textLength="41.4" lengthAdjust="spacingAndGlyphs">Ripcord</text>
<circle cx="197.6" cy="497" r="47.4" fill="#000"/><circle cx="197.6" cy="497" r="35.6" fill="#858585"/><circle cx="197.6" cy="497" r="35.6" fill="none" stroke="#50c050" stroke-width="1.1"/><circle cx="197.6" cy="497" r="26.4" fill="#1a1a1a"/><circle cx="197.6" cy="497" r="25.2" fill="#fff"/><circle cx="182.9" cy="488.3" r="8" fill="url(#gBall2)" stroke="#7a7a7a" stroke-width="0.7"/><circle cx="182.9" cy="505.6" r="8" fill="url(#gBall2)" stroke="#7a7a7a" stroke-width="0.7"/><circle cx="197.1" cy="514.3" r="8" fill="url(#gBall2)" stroke="#7a7a7a" stroke-width="0.7"/><circle cx="211.2" cy="505.6" r="8" fill="url(#gBall2)" stroke="#7a7a7a" stroke-width="0.7"/><circle cx="197.1" cy="496.5" r="8.7" fill="#f2eeb0" stroke="#d8d49a" stroke-width="0.6"/><circle cx="196.29999999999998" cy="478.8" r="6.5" fill="#fff" stroke="#1b3ab0" stroke-width="3.1"/><path d="M193.2,478.8 L196.3,476.5 L199.4,478.8 L196.3,481.1 Z" fill="#2a2020"/><circle cx="195.0" cy="478.1" r="0.96" fill="#d03030"/><circle cx="197.5" cy="478.0" r="0.84" fill="#e0c030"/><circle cx="195.9" cy="479.9" r="0.84" fill="#30a040"/><circle cx="210.4" cy="487.5" r="6.5" fill="#fff" stroke="#e8700c" stroke-width="3.1"/><path d="M207.3,487.5 L210.4,485.2 L213.5,487.5 L210.4,489.8 Z" fill="#2a2020"/><circle cx="209.1" cy="486.8" r="0.96" fill="#d03030"/><circle cx="211.6" cy="486.7" r="0.84" fill="#e0c030"/><circle cx="210.0" cy="488.6" r="0.84" fill="#30a040"/><circle cx="347.8" cy="496.5" r="47.4" fill="#000"/><circle cx="347.8" cy="496.5" r="35.6" fill="#858585"/><circle cx="347.8" cy="496.5" r="35.6" fill="none" stroke="#3c903c" stroke-width="1.1"/><circle cx="347.8" cy="496.5" r="26.4" fill="#1a1a1a"/><circle cx="347.8" cy="496.5" r="25.2" fill="#fff"/><circle cx="361.1" cy="505.6" r="8" fill="url(#gBall2)" stroke="#7a7a7a" stroke-width="0.7"/><circle cx="347.0" cy="514.3" r="8" fill="url(#gBall2)" stroke="#7a7a7a" stroke-width="0.7"/><circle cx="347.3" cy="496.0" r="8.7" fill="#f2eeb0" stroke="#d8d49a" stroke-width="0.6"/><circle cx="346.2" cy="478.8" r="6.5" fill="#fff" stroke="#1b3ab0" stroke-width="3.1"/><path d="M343.1,478.8 L346.2,476.5 L349.3,478.8 L346.2,481.1 Z" fill="#2a2020"/><circle cx="344.9" cy="478.1" r="0.96" fill="#d03030"/><circle cx="347.4" cy="478.0" r="0.84" fill="#e0c030"/><circle cx="345.8" cy="479.9" r="0.84" fill="#30a040"/><circle cx="361.1" cy="487.5" r="6.5" fill="#fff" stroke="#e8700c" stroke-width="3.1"/><path d="M358.0,487.5 L361.1,485.2 L364.2,487.5 L361.1,489.8 Z" fill="#2a2020"/><circle cx="359.8" cy="486.8" r="0.96" fill="#d03030"/><circle cx="362.3" cy="486.7" r="0.84" fill="#e0c030"/><circle cx="360.7" cy="488.6" r="0.84" fill="#30a040"/><circle cx="332.0" cy="488.3" r="6.5" fill="#fff" stroke="#40b840" stroke-width="3.1"/><path d="M328.9,488.3 L332.0,486.0 L335.1,488.3 L332.0,490.6 Z" fill="#2a2020"/><circle cx="330.7" cy="487.6" r="0.96" fill="#d03030"/><circle cx="333.2" cy="487.5" r="0.84" fill="#e0c030"/><circle cx="331.6" cy="489.4" r="0.84" fill="#30a040"/><circle cx="332.8" cy="505.6" r="6.5" fill="#fff" stroke="#5a1a50" stroke-width="3.1"/><path d="M329.7,505.6 L332.8,503.3 L335.9,505.6 L332.8,507.9 Z" fill="#2a2020"/><circle cx="331.5" cy="504.9" r="0.96" fill="#d03030"/><circle cx="334.0" cy="504.8" r="0.84" fill="#e0c030"/><circle cx="332.4" cy="506.7" r="0.84" fill="#30a040"/><ellipse cx="353.3" cy="529.0" rx="2.2" ry="1.4" fill="#e0e040"/><path d="M349.8,525.5 l3,0.5 l3,-0.5" stroke="#c0c040" stroke-width="0.5" fill="none"/><circle cx="497.8" cy="496.5" r="47.4" fill="#000"/><circle cx="497.8" cy="496.5" r="35.6" fill="#858585"/><circle cx="497.8" cy="496.5" r="35.6" fill="none" stroke="#3c903c" stroke-width="1.1"/><circle cx="497.8" cy="496.5" r="26.4" fill="#1a1a1a"/><circle cx="497.8" cy="496.5" r="25.2" fill="#fff"/><circle cx="511.1" cy="505.6" r="8" fill="url(#gBall2)" stroke="#7a7a7a" stroke-width="0.7"/><circle cx="497.0" cy="514.3" r="8" fill="url(#gBall2)" stroke="#7a7a7a" stroke-width="0.7"/><circle cx="497.3" cy="496.0" r="8.7" fill="#f2eeb0" stroke="#d8d49a" stroke-width="0.6"/><circle cx="496.2" cy="478.8" r="6.5" fill="#fff" stroke="#1b3ab0" stroke-width="3.1"/><path d="M493.1,478.8 L496.2,476.5 L499.3,478.8 L496.2,481.1 Z" fill="#2a2020"/><circle cx="494.9" cy="478.1" r="0.96" fill="#d03030"/><circle cx="497.4" cy="478.0" r="0.84" fill="#e0c030"/><circle cx="495.8" cy="479.9" r="0.84" fill="#30a040"/><circle cx="511.1" cy="487.5" r="6.5" fill="#fff" stroke="#e8700c" stroke-width="3.1"/><path d="M508.0,487.5 L511.1,485.2 L514.2,487.5 L511.1,489.8 Z" fill="#2a2020"/><circle cx="509.8" cy="486.8" r="0.96" fill="#d03030"/><circle cx="512.3" cy="486.7" r="0.84" fill="#e0c030"/><circle cx="510.7" cy="488.6" r="0.84" fill="#30a040"/><circle cx="482.0" cy="488.3" r="6.5" fill="#fff" stroke="#40b840" stroke-width="3.1"/><path d="M478.9,488.3 L482.0,486.0 L485.1,488.3 L482.0,490.6 Z" fill="#2a2020"/><circle cx="480.7" cy="487.6" r="0.96" fill="#d03030"/><circle cx="483.2" cy="487.5" r="0.84" fill="#e0c030"/><circle cx="481.6" cy="489.4" r="0.84" fill="#30a040"/><circle cx="482.8" cy="505.6" r="6.5" fill="#fff" stroke="#5a1a50" stroke-width="3.1"/><path d="M479.7,505.6 L482.8,503.3 L485.9,505.6 L482.8,507.9 Z" fill="#2a2020"/><circle cx="481.5" cy="504.9" r="0.96" fill="#d03030"/><circle cx="484.0" cy="504.8" r="0.84" fill="#e0c030"/><circle cx="482.4" cy="506.7" r="0.84" fill="#30a040"/><ellipse cx="503.3" cy="529.0" rx="2.2" ry="1.4" fill="#e0e040"/><path d="M499.8,525.5 l3,0.5 l3,-0.5" stroke="#c0c040" stroke-width="0.5" fill="none"/><circle cx="647.2" cy="497.2" r="47.4" fill="#000"/><circle cx="647.2" cy="497.2" r="34.6" fill="#848484"/><circle cx="647.2" cy="497.2" r="34.6" fill="none" stroke="#3a8c3a" stroke-width="0.9"/><circle cx="647.2" cy="497.2" r="23.4" fill="#fff" stroke="#2e2e2e" stroke-width="2.4"/><circle cx="647.2" cy="497.2" r="23.4" fill="none" stroke="#6a6a6a" stroke-width="0.7" stroke-dasharray="1.2 1.6"/><circle cx="647.2" cy="497.2" r="24.6" fill="none" stroke="#3a3a3a" stroke-width="0.8"/><circle cx="647.2" cy="480.8" r="5.4" fill="#fff" stroke="#1c3aa8" stroke-width="2"/><path d="M644.3,480.8 L647.2,478.7 L650.1,480.8 L647.2,482.9 Z" fill="#2a2020"/><circle cx="646.0" cy="480.1" r="0.88" fill="#d03030"/><circle cx="648.3" cy="480.0" r="0.77" fill="#e0c030"/><circle cx="646.9" cy="481.8" r="0.77" fill="#30a040"/><circle cx="658.8" cy="485.6" r="5.4" fill="#fff" stroke="#111111" stroke-width="2"/><path d="M655.9,485.6 L658.8,483.5 L661.7,485.6 L658.8,487.7 Z" fill="#2a2020"/><circle cx="657.6" cy="484.9" r="0.88" fill="#d03030"/><circle cx="659.9" cy="484.8" r="0.77" fill="#e0c030"/><circle cx="658.5" cy="486.6" r="0.77" fill="#30a040"/><circle cx="663.6" cy="497.2" r="5.4" fill="#fff" stroke="#d01818" stroke-width="2"/><path d="M660.7,497.2 L663.6,495.1 L666.5,497.2 L663.6,499.3 Z" fill="#2a2020"/><circle cx="662.4" cy="496.5" r="0.88" fill="#d03030"/><circle cx="664.7" cy="496.4" r="0.77" fill="#e0c030"/><circle cx="663.3" cy="498.2" r="0.77" fill="#30a040"/><circle cx="658.8" cy="508.8" r="5.4" fill="#fff" stroke="#c8c8c8" stroke-width="2"/><path d="M655.9,508.8 L658.8,506.7 L661.7,508.8 L658.8,510.9 Z" fill="#2a2020"/><circle cx="657.6" cy="508.1" r="0.88" fill="#d03030"/><circle cx="659.9" cy="508.0" r="0.77" fill="#e0c030"/><circle cx="658.5" cy="509.8" r="0.77" fill="#30a040"/><circle cx="647.2" cy="513.6" r="5.4" fill="#fff" stroke="#c4c4c4" stroke-width="2"/><path d="M644.3,513.6 L647.2,511.5 L650.1,513.6 L647.2,515.7 Z" fill="#2a2020"/><circle cx="646.0" cy="512.9" r="0.88" fill="#d03030"/><circle cx="648.3" cy="512.8" r="0.77" fill="#e0c030"/><circle cx="646.9" cy="514.6" r="0.77" fill="#30a040"/><circle cx="635.6" cy="508.8" r="5.4" fill="#fff" stroke="#c04050" stroke-width="2"/><path d="M632.7,508.8 L635.6,506.7 L638.5,508.8 L635.6,510.9 Z" fill="#2a2020"/><circle cx="634.4" cy="508.1" r="0.88" fill="#d03030"/><circle cx="636.7" cy="508.0" r="0.77" fill="#e0c030"/><circle cx="635.3" cy="509.8" r="0.77" fill="#30a040"/><circle cx="630.8" cy="497.2" r="5.4" fill="#fff" stroke="#38a838" stroke-width="2"/><path d="M627.9,497.2 L630.8,495.1 L633.7,497.2 L630.8,499.3 Z" fill="#2a2020"/><circle cx="629.6" cy="496.5" r="0.88" fill="#d03030"/><circle cx="631.9" cy="496.4" r="0.77" fill="#e0c030"/><circle cx="630.5" cy="498.2" r="0.77" fill="#30a040"/><circle cx="635.6" cy="485.6" r="5.4" fill="#fff" stroke="#e07018" stroke-width="2"/><path d="M632.7,485.6 L635.6,483.5 L638.5,485.6 L635.6,487.7 Z" fill="#2a2020"/><circle cx="634.4" cy="484.9" r="0.88" fill="#d03030"/><circle cx="636.7" cy="484.8" r="0.77" fill="#e0c030"/><circle cx="635.3" cy="486.6" r="0.77" fill="#30a040"/><circle cx="647.2" cy="497.2" r="9" fill="#505050" stroke="#222" stroke-width="0.8"/><circle cx="647.2" cy="497.2" r="5.7" fill="#f6f2b8"/><circle cx="797.3" cy="497" r="46.9" fill="#000"/><circle cx="797.3" cy="497" r="37" fill="#848484"/><circle cx="797.3" cy="497" r="37" fill="none" stroke="#48c048" stroke-width="1.5"/><circle cx="797.3" cy="497" r="26.5" fill="#111"/><circle cx="797.3" cy="497" r="25.6" fill="#fff" stroke="#84b8d8" stroke-width="1.3"/><circle cx="797.3" cy="497" r="24.6" fill="#e8e8e8" stroke="#222" stroke-width="0.6"/><circle cx="797.3" cy="478.2" r="4.1" fill="#4a3a30" stroke="#1c3aa0" stroke-width="1.6"/><path d="M795.0,478.2 L797.3,476.5 L799.6,478.2 L797.3,479.9 Z" fill="#2a2020"/><circle cx="796.3" cy="477.7" r="0.72" fill="#d03030"/><circle cx="798.2" cy="477.6" r="0.63" fill="#e0c030"/><circle cx="797.0" cy="479.0" r="0.63" fill="#30a040"/><circle cx="806.7" cy="480.7" r="4.1" fill="#4a3a30" stroke="#3aa8d0" stroke-width="1.6"/><path d="M804.4,480.7 L806.7,479.0 L809.0,480.7 L806.7,482.4 Z" fill="#2a2020"/><circle cx="805.7" cy="480.2" r="0.72" fill="#d03030"/><circle cx="807.6" cy="480.1" r="0.63" fill="#e0c030"/><circle cx="806.4" cy="481.5" r="0.63" fill="#30a040"/><circle cx="813.6" cy="487.6" r="4.1" fill="#4a3a30" stroke="#1a1a1a" stroke-width="1.6"/><path d="M811.2,487.6 L813.6,485.9 L815.9,487.6 L813.6,489.3 Z" fill="#2a2020"/><circle cx="812.6" cy="487.1" r="0.72" fill="#d03030"/><circle cx="814.5" cy="487.0" r="0.63" fill="#e0c030"/><circle cx="813.3" cy="488.4" r="0.63" fill="#30a040"/><circle cx="816.1" cy="497.0" r="4.1" fill="#4a3a30" stroke="#6a3aa0" stroke-width="1.6"/><path d="M813.8,497.0 L816.1,495.3 L818.4,497.0 L816.1,498.7 Z" fill="#2a2020"/><circle cx="815.1" cy="496.5" r="0.72" fill="#d03030"/><circle cx="817.0" cy="496.4" r="0.63" fill="#e0c030"/><circle cx="815.8" cy="497.8" r="0.63" fill="#30a040"/><circle cx="813.6" cy="506.4" r="4.1" fill="#4a3a30" stroke="#d8c820" stroke-width="1.6"/><path d="M811.2,506.4 L813.6,504.7 L815.9,506.4 L813.6,508.1 Z" fill="#2a2020"/><circle cx="812.6" cy="505.9" r="0.72" fill="#d03030"/><circle cx="814.5" cy="505.8" r="0.63" fill="#e0c030"/><circle cx="813.3" cy="507.2" r="0.63" fill="#30a040"/><circle cx="806.7" cy="513.3" r="4.1" fill="#4a3a30" stroke="#1a1a1a" stroke-width="1.6"/><path d="M804.4,513.3 L806.7,511.6 L809.0,513.3 L806.7,515.0 Z" fill="#2a2020"/><circle cx="805.7" cy="512.7" r="0.72" fill="#d03030"/><circle cx="807.6" cy="512.7" r="0.63" fill="#e0c030"/><circle cx="806.4" cy="514.1" r="0.63" fill="#30a040"/><circle cx="797.3" cy="515.8" r="4.1" fill="#4a3a30" stroke="#c81818" stroke-width="1.6"/><path d="M795.0,515.8 L797.3,514.1 L799.6,515.8 L797.3,517.5 Z" fill="#2a2020"/><circle cx="796.3" cy="515.3" r="0.72" fill="#d03030"/><circle cx="798.2" cy="515.2" r="0.63" fill="#e0c030"/><circle cx="797.0" cy="516.6" r="0.63" fill="#30a040"/><circle cx="787.9" cy="513.3" r="4.1" fill="#4a3a30" stroke="#1a1a1a" stroke-width="1.6"/><path d="M785.6,513.3 L787.9,511.6 L790.2,513.3 L787.9,515.0 Z" fill="#2a2020"/><circle cx="786.9" cy="512.7" r="0.72" fill="#d03030"/><circle cx="788.8" cy="512.7" r="0.63" fill="#e0c030"/><circle cx="787.6" cy="514.1" r="0.63" fill="#30a040"/><circle cx="781.0" cy="506.4" r="4.1" fill="#4a3a30" stroke="#c8c8c8" stroke-width="1.6"/><path d="M778.7,506.4 L781.0,504.7 L783.4,506.4 L781.0,508.1 Z" fill="#2a2020"/><circle cx="780.0" cy="505.9" r="0.72" fill="#d03030"/><circle cx="781.9" cy="505.8" r="0.63" fill="#e0c030"/><circle cx="780.7" cy="507.2" r="0.63" fill="#30a040"/><circle cx="778.5" cy="497.0" r="4.1" fill="#4a3a30" stroke="#b83040" stroke-width="1.6"/><path d="M776.2,497.0 L778.5,495.3 L780.8,497.0 L778.5,498.7 Z" fill="#2a2020"/><circle cx="777.5" cy="496.5" r="0.72" fill="#d03030"/><circle cx="779.4" cy="496.4" r="0.63" fill="#e0c030"/><circle cx="778.2" cy="497.8" r="0.63" fill="#30a040"/><circle cx="781.0" cy="487.6" r="4.1" fill="#4a3a30" stroke="#40a040" stroke-width="1.6"/><path d="M778.7,487.6 L781.0,485.9 L783.4,487.6 L781.0,489.3 Z" fill="#2a2020"/><circle cx="780.0" cy="487.1" r="0.72" fill="#d03030"/><circle cx="781.9" cy="487.0" r="0.63" fill="#e0c030"/><circle cx="780.7" cy="488.4" r="0.63" fill="#30a040"/><circle cx="787.9" cy="480.7" r="4.1" fill="#4a3a30" stroke="#e07018" stroke-width="1.6"/><path d="M785.6,480.7 L787.9,479.0 L790.2,480.7 L787.9,482.4 Z" fill="#2a2020"/><circle cx="786.9" cy="480.2" r="0.72" fill="#d03030"/><circle cx="788.8" cy="480.1" r="0.63" fill="#e0c030"/><circle cx="787.6" cy="481.5" r="0.63" fill="#30a040"/><circle cx="797.3" cy="497" r="13" fill="#a2a2a2"/><circle cx="797.3" cy="497" r="6.1" fill="#f6f2b8" stroke="#777" stroke-width="0.7"/><circle cx="826.3" cy="496.5" r="0.9" fill="#d8a020"/><text x="179.2" y="576.2" font-size="17" fill="#444" textLength="36.0" lengthAdjust="spacingAndGlyphs">12Fo</text><text x="327.2" y="576.2" font-size="17" fill="#444" textLength="39.60000000000002" lengthAdjust="spacingAndGlyphs">24Fo</text><text x="476.8" y="576.2" font-size="17" fill="#444" textLength="39.99999999999994" lengthAdjust="spacingAndGlyphs">48Fo</text><text x="627.2" y="576.2" font-size="17" fill="#444" textLength="40.39999999999998" lengthAdjust="spacingAndGlyphs">96Fo</text><text x="773.2" y="576.2" font-size="17" fill="#444" textLength="46.89999999999998" lengthAdjust="spacingAndGlyphs">144Fo</text>
<path d="M826,612.4 L841.4,612.4 L853,643.1 L865.1,612.4 L909.8,612.4 L919.1,627.5 L899.5,627.5 L899.5,667 L883.7,667 L883.7,627.5 L874.9,627.5 L860.9,667 L845.1,667 Z" fill="url(#gLogo)"/><path d="M922.8,667 L933,667 L944.5,648.5 L938.5,644 Z" fill="#1f6cb0"/><path d="M949.78,641.44 L950.18,640.70 L950.69,639.75 L951.28,638.67 L951.94,637.47 L952.66,636.19 L953.42,634.89 L954.22,633.59 L955.04,632.33 L955.93,631.06 L956.90,629.73 L957.96,628.33 L959.08,626.89 L960.24,625.40 L961.43,623.88 L962.63,622.33 L963.84,620.76 L965.06,619.12 L966.28,617.42 L967.51,615.69 L968.74,613.97 L969.97,612.29 L971.19,610.67 L972.40,609.16 L973.59,607.78 L974.78,606.51 L975.98,605.31 L977.19,604.18 L978.42,603.11 L979.65,602.07 L980.89,601.07 L982.15,600.08 L983.41,599.11 L984.69,598.14 L986.01,597.17 L987.34,596.22 L988.67,595.32 L989.97,594.47 L991.22,593.69 L992.38,593.00 L993.42,592.43 L994.34,591.98 L995.17,591.66 L995.94,591.42 L996.65,591.24 L997.35,591.11 L998.04,590.99 L998.73,590.86 L999.43,590.71 L1000.13,590.53 L1000.81,590.37 L1001.49,590.23 L1002.14,590.09 L1002.74,589.97 L1003.27,589.86 L1003.73,589.77 L1004.08,589.69 L1003.92,588.71 L1003.57,588.75 L1003.11,588.80 L1002.57,588.86 L1001.95,588.92 L1001.28,589.00 L1000.58,589.09 L999.87,589.19 L999.17,589.29 L998.50,589.38 L997.84,589.44 L997.13,589.49 L996.37,589.57 L995.54,589.69 L994.64,589.89 L993.65,590.17 L992.58,590.57 L991.40,591.09 L990.12,591.69 L988.77,592.37 L987.35,593.12 L985.90,593.92 L984.44,594.76 L982.99,595.62 L981.59,596.49 L980.23,597.36 L978.86,598.24 L977.48,599.15 L976.08,600.11 L974.68,601.12 L973.27,602.20 L971.85,603.36 L970.41,604.62 L968.96,606.01 L967.51,607.50 L966.06,609.07 L964.63,610.68 L963.22,612.29 L961.83,613.88 L960.47,615.40 L959.16,616.84 L957.85,618.23 L956.52,619.62 L955.18,621.00 L953.86,622.36 L952.56,623.71 L951.31,625.05 L950.10,626.37 L948.96,627.67 L947.86,629.00 L946.80,630.34 L945.80,631.67 L944.88,632.93 L944.03,634.10 L943.30,635.11 L942.70,635.94 L942.22,636.56 Z" fill="url(#gLogo2)"/><path d="M913.5,612.4 L930.7,612.4 L968.5,667 L951.5,667 Z" fill="none" stroke="#fff" stroke-width="3"/><path d="M913.5,612.4 L930.7,612.4 L968.5,667 L951.5,667 Z" fill="url(#gLogo)"/><path d="M918.5,615.2 L928.4,615.2 L964.8,667 M921.5,618.4 L925.2,618.4 L958.5,666 M922.8,621.5 L953.5,665" fill="none" stroke="#fff" stroke-width="0.9"/><circle cx="918.3" cy="615.2" r="0.9" fill="#fff"/><circle cx="921.3" cy="618.4" r="0.8" fill="#fff"/><path d="M915.74,670.83 L917.47,668.85 L919.86,666.14 L922.72,662.89 L925.85,659.31 L929.08,655.60 L932.20,651.96 L935.05,648.58 L937.45,645.65 L939.42,643.13 L941.14,640.82 L942.65,638.70 L944.00,636.72 L945.25,634.86 L946.44,633.08 L947.63,631.33 L948.88,629.55 L950.20,627.73 L951.50,625.93 L952.77,624.17 L954.03,622.44 L955.27,620.76 L956.50,619.11 L957.74,617.49 L958.98,615.90 L960.23,614.32 L961.49,612.76 L962.74,611.23 L963.98,609.74 L965.21,608.29 L966.44,606.89 L967.66,605.55 L968.88,604.28 L970.10,603.05 L971.33,601.86 L972.55,600.72 L973.77,599.63 L974.99,598.60 L976.19,597.62 L977.40,596.70 L978.59,595.85 L979.78,595.08 L981.02,594.36 L982.30,593.69 L983.59,593.06 L984.88,592.47 L986.14,591.91 L987.35,591.38 L988.47,590.88 L989.50,590.41 L990.49,590.00 L991.44,589.61 L992.34,589.27 L993.16,588.96 L993.90,588.69 L994.53,588.46 L995.04,588.27 L993.96,584.93 L993.47,585.06 L992.83,585.22 L992.06,585.42 L991.18,585.64 L990.20,585.91 L989.15,586.21 L988.05,586.55 L986.93,586.92 L985.77,587.31 L984.53,587.73 L983.18,588.18 L981.77,588.67 L980.30,589.23 L978.80,589.85 L977.29,590.56 L975.81,591.35 L974.38,592.20 L972.96,593.11 L971.54,594.08 L970.13,595.11 L968.72,596.19 L967.32,597.32 L965.92,598.50 L964.52,599.72 L963.11,601.01 L961.71,602.37 L960.31,603.77 L958.92,605.21 L957.54,606.70 L956.16,608.21 L954.79,609.74 L953.42,611.30 L952.05,612.89 L950.69,614.51 L949.34,616.16 L948.00,617.83 L946.65,619.54 L945.29,621.27 L943.92,623.03 L942.52,624.85 L941.13,626.68 L939.83,628.48 L938.57,630.26 L937.30,632.06 L935.96,633.91 L934.49,635.88 L932.84,638.01 L930.95,640.35 L928.60,643.14 L925.76,646.42 L922.64,650.00 L919.41,653.66 L916.27,657.21 L913.41,660.45 L911.01,663.17 L909.26,665.17 Z" fill="#fff"/><path d="M914.61,669.84 L916.35,667.86 L918.74,665.14 L921.59,661.90 L924.72,658.32 L927.94,654.62 L931.07,650.98 L933.91,647.61 L936.29,644.70 L938.24,642.21 L939.93,639.93 L941.43,637.82 L942.77,635.86 L944.01,634.01 L945.21,632.22 L946.41,630.46 L947.68,628.66 L949.00,626.83 L950.30,625.03 L951.58,623.26 L952.84,621.53 L954.09,619.84 L955.33,618.18 L956.57,616.55 L957.82,614.95 L959.08,613.36 L960.35,611.79 L961.60,610.24 L962.86,608.74 L964.11,607.27 L965.36,605.85 L966.60,604.49 L967.84,603.19 L969.09,601.94 L970.34,600.73 L971.58,599.57 L972.83,598.46 L974.08,597.40 L975.32,596.40 L976.56,595.46 L977.80,594.58 L979.06,593.77 L980.36,593.02 L981.69,592.32 L983.02,591.68 L984.33,591.08 L985.60,590.51 L986.81,589.98 L987.93,589.48 L988.97,589.01 L989.99,588.58 L990.96,588.19 L991.88,587.84 L992.72,587.53 L993.46,587.26 L994.08,587.03 L994.58,586.84 L994.42,586.36 L993.92,586.50 L993.27,586.66 L992.51,586.85 L991.63,587.07 L990.68,587.33 L989.65,587.62 L988.57,587.95 L987.47,588.32 L986.32,588.71 L985.07,589.13 L983.74,589.57 L982.34,590.06 L980.91,590.60 L979.46,591.20 L978.02,591.87 L976.60,592.62 L975.21,593.45 L973.83,594.33 L972.45,595.27 L971.07,596.28 L969.69,597.33 L968.31,598.44 L966.94,599.60 L965.56,600.81 L964.18,602.07 L962.79,603.40 L961.42,604.79 L960.04,606.21 L958.67,607.68 L957.30,609.18 L955.94,610.71 L954.58,612.25 L953.22,613.83 L951.87,615.44 L950.53,617.08 L949.19,618.74 L947.84,620.44 L946.49,622.17 L945.12,623.93 L943.72,625.74 L942.35,627.55 L941.06,629.34 L939.80,631.11 L938.53,632.91 L937.18,634.79 L935.70,636.78 L934.03,638.93 L932.11,641.30 L929.75,644.10 L926.90,647.40 L923.77,650.98 L920.54,654.65 L917.40,658.21 L914.54,661.44 L912.14,664.16 L910.39,666.16 Z" fill="#d3283a"/>
</svg>
</body></html>
